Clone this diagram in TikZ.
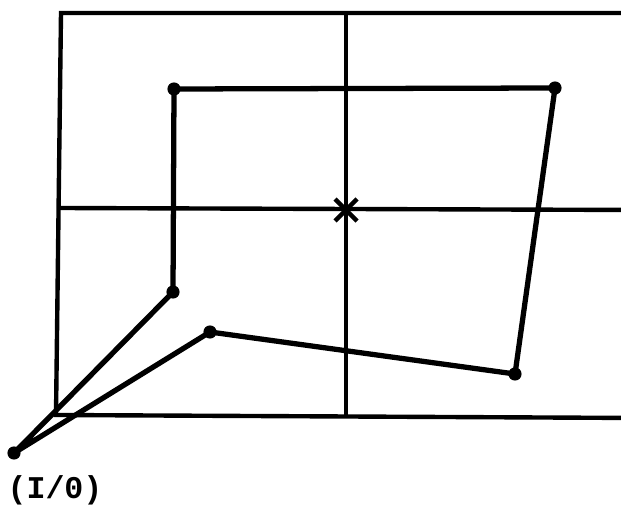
\documentclass[tikz,border=0pt]{standalone}
\usepackage{fontspec}
\newfontfamily\monofont{Liberation Mono}
\usepackage{tikz}
\usetikzlibrary{calc}

\tikzset{
  gridline/.style={line width=2.5pt},
  pathline/.style={line width=3pt, line join=round},
  pathdot/.style={circle, fill=black, inner sep=0pt, minimum size=7.5pt},
}

\begin{document}
\begin{tikzpicture}[x=0.02cm, y=0.02cm]
  \useasboundingbox (0,0) rectangle (621,510);
  % --- Cadre et axes ---
  \begin{scope}
    \clip (0,0) rectangle (621,510);
    \draw[gridline] (640,497) -- (61,497) -- (56,95) -- (640,92);
    \draw[gridline] (58,302) -- (640,300);
    \draw[gridline] (346,497) -- (346,93);
  \end{scope}
  % Centre (croix)
  \coordinate (centre) at (346,300);
  \draw[line width=2.5pt] ($(centre)+(-11,11)$) -- ($(centre)+(11,-11)$);
  \draw[line width=2.5pt] ($(centre)+(-11,-11)$) -- ($(centre)+(11,11)$);
  % --- Points du trajet ---
  \node[pathdot] (io) at (14,57) {};
  \node[pathdot] (p1) at (173,218) {};
  \node[pathdot] (p2) at (174,421) {};
  \node[pathdot] (p3) at (555,422) {};
  \node[pathdot] (p4) at (515,136) {};
  \node[pathdot] (p5) at (210,178) {};
  % Trajet
  \draw[pathline] (io.center) -- (p1.center) -- (p2.center) -- (p3.center)
    -- (p4.center) -- (p5.center) -- (io.center);
  \node[font=\monofont\bfseries\fontsize{18}{21}\selectfont] (iolabel) at (55,20) {(I/0)};
\end{tikzpicture}
\end{document}
